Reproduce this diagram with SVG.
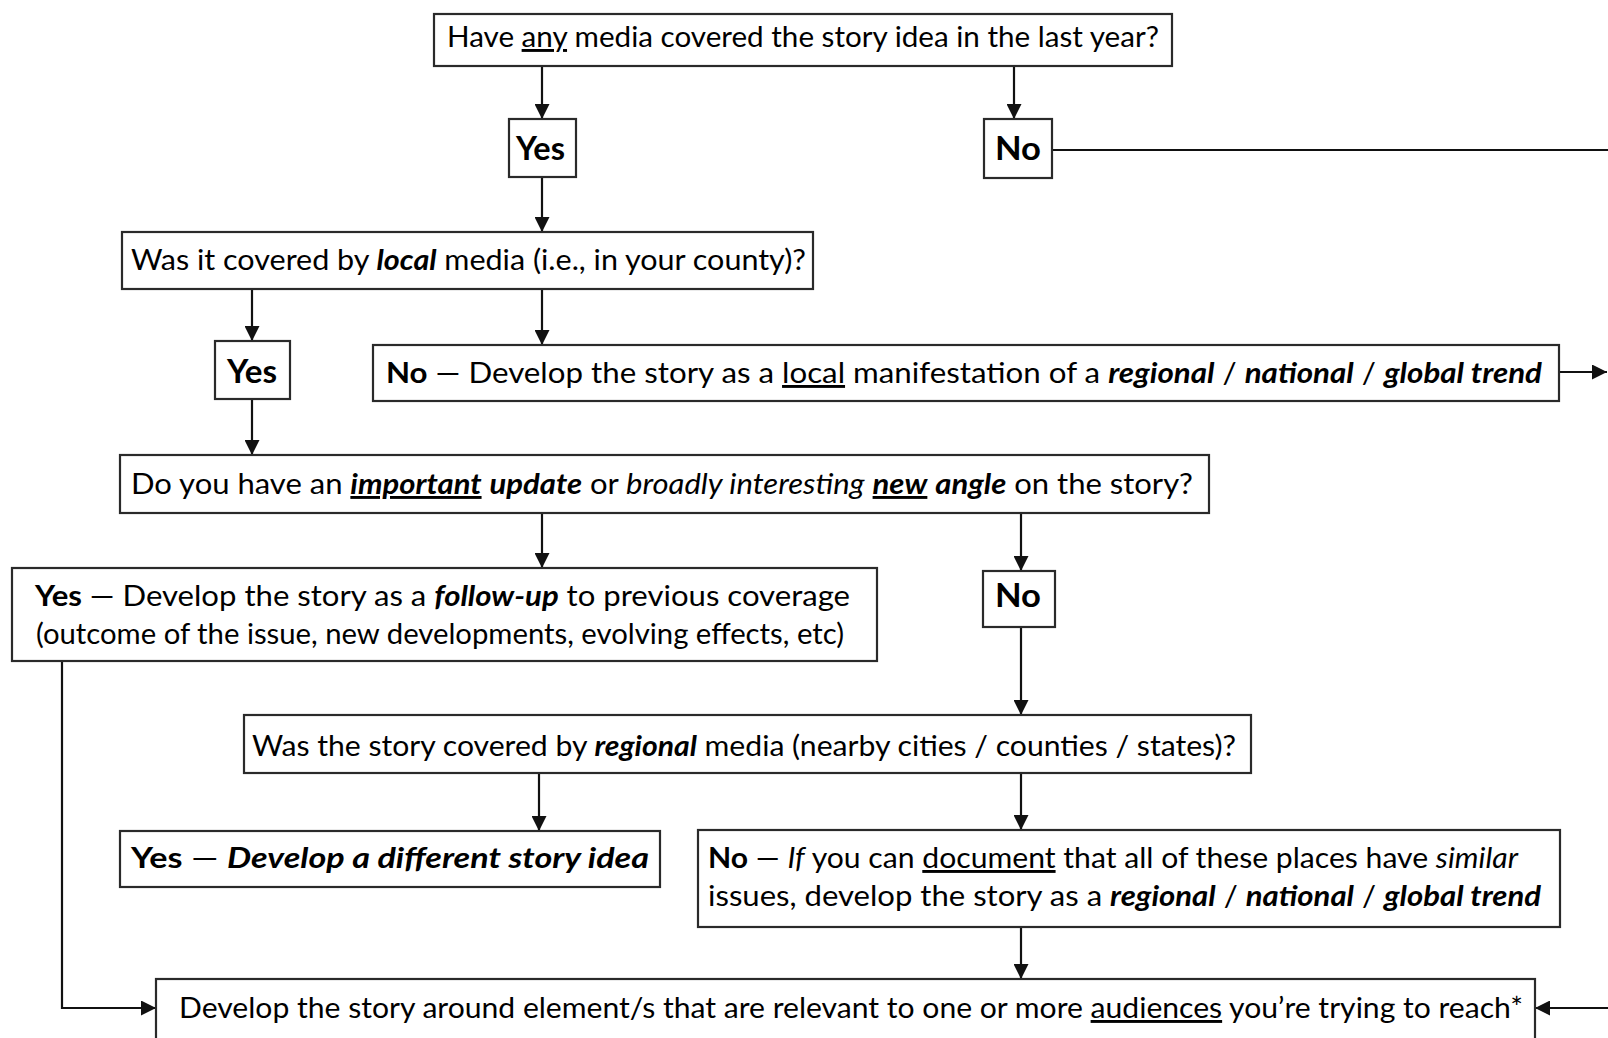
<svg xmlns="http://www.w3.org/2000/svg" width="1608" height="1038" viewBox="0 0 1608 1038">
<style>
.box{fill:#fff;stroke:#2a2a2a;stroke-width:2.2}
.t{font-family:Lato,"Open Sans","Liberation Sans",sans-serif;font-size:29px;fill:#000}
.yn{font-size:32px}
.b{font-weight:bold}
.i{font-style:italic}
.u{text-decoration:underline}
.c{fill:none;stroke:#111;stroke-width:2.2}
</style>
<defs>
<marker id="ah" viewBox="0 0 15 15" refX="15" refY="7.5" markerWidth="15" markerHeight="15" markerUnits="userSpaceOnUse" orient="auto">
<path d="M0,0 L15,7.5 L0,15 z" fill="#111"/>
</marker>
</defs>
<rect width="1608" height="1038" fill="#fff"/>
<g id="connectors">
<line class="c" x1="542" y1="66" x2="542" y2="119" marker-end="url(#ah)"/>
<line class="c" x1="1014" y1="66" x2="1014" y2="119" marker-end="url(#ah)"/>
<line class="c" x1="1052" y1="150" x2="1608" y2="150"/>
<line class="c" x1="542" y1="176" x2="542" y2="232" marker-end="url(#ah)"/>
<line class="c" x1="252" y1="289" x2="252" y2="341" marker-end="url(#ah)"/>
<line class="c" x1="542" y1="289" x2="542" y2="345" marker-end="url(#ah)"/>
<line class="c" x1="1559" y1="372" x2="1607" y2="372" marker-end="url(#ah)"/>
<line class="c" x1="252" y1="399" x2="252" y2="455" marker-end="url(#ah)"/>
<line class="c" x1="542" y1="513" x2="542" y2="568" marker-end="url(#ah)"/>
<line class="c" x1="1021" y1="513" x2="1021" y2="571" marker-end="url(#ah)"/>
<line class="c" x1="1021" y1="627" x2="1021" y2="715" marker-end="url(#ah)"/>
<line class="c" x1="539" y1="773" x2="539" y2="831" marker-end="url(#ah)"/>
<line class="c" x1="1021" y1="773" x2="1021" y2="830" marker-end="url(#ah)"/>
<line class="c" x1="1021" y1="927" x2="1021" y2="979" marker-end="url(#ah)"/>
<polyline class="c" points="62,661 62,1008 156,1008" marker-end="url(#ah)"/>
<line class="c" x1="1608" y1="1008" x2="1535" y2="1008" marker-end="url(#ah)"/>
</g>
<g id="q1">
<rect class="box" x="434" y="14" width="738" height="52"/>
<text class="t" x="447" y="47" textLength="712" lengthAdjust="spacingAndGlyphs">Have <tspan class="u">any</tspan> media covered the story idea in the last year?</text>
</g>
<g id="yes1">
<rect class="box" x="509" y="119" width="67" height="58"/>
<text class="t b yn" x="516" y="160" textLength="49" lengthAdjust="spacingAndGlyphs">Yes</text>
</g>
<g id="no1">
<rect class="box" x="984" y="119" width="68" height="59"/>
<text class="t b yn" x="995" y="160" textLength="46" lengthAdjust="spacingAndGlyphs">No</text>
</g>
<g id="q2">
<rect class="box" x="122" y="232" width="691" height="57"/>
<text class="t" x="131" y="270" textLength="675" lengthAdjust="spacingAndGlyphs">Was it covered by <tspan class="b i">local</tspan> media (i.e., in your county)?</text>
</g>
<g id="yes2">
<rect class="box" x="215" y="341" width="75" height="58"/>
<text class="t b yn" x="227" y="383" textLength="50" lengthAdjust="spacingAndGlyphs">Yes</text>
</g>
<g id="no2">
<rect class="box" x="373" y="345" width="1186" height="56"/>
<text class="t" x="386" y="383" textLength="1156" lengthAdjust="spacingAndGlyphs"><tspan class="b">No</tspan> — Develop the story as a <tspan class="u">local</tspan> manifestation of a <tspan class="b i">regional</tspan> / <tspan class="b i">national</tspan> / <tspan class="b i">global trend</tspan></text>
</g>
<g id="q3">
<rect class="box" x="120" y="455" width="1089" height="58"/>
<text class="t" x="131" y="494" textLength="1062" lengthAdjust="spacingAndGlyphs">Do you have an <tspan class="b i u">important</tspan> <tspan class="b i">update</tspan> or <tspan class="i">broadly interesting</tspan> <tspan class="b i u">new</tspan> <tspan class="b i">angle</tspan> on the story?</text>
</g>
<g id="yes3">
<rect class="box" x="12" y="568" width="865" height="93"/>
<text class="t" x="35" y="606" textLength="815" lengthAdjust="spacingAndGlyphs"><tspan class="b">Yes</tspan> — Develop the story as a <tspan class="b i">follow-up</tspan> to previous coverage</text>
<text class="t" x="36" y="644" textLength="808" lengthAdjust="spacingAndGlyphs">(outcome of the issue, new developments, evolving effects, etc)</text>
</g>
<g id="no3">
<rect class="box" x="983" y="571" width="72" height="56"/>
<text class="t b yn" x="995" y="607" textLength="46" lengthAdjust="spacingAndGlyphs">No</text>
</g>
<g id="q4">
<rect class="box" x="244" y="715" width="1007" height="58"/>
<text class="t" x="252" y="756" textLength="984" lengthAdjust="spacingAndGlyphs">Was the story covered by <tspan class="b i">regional</tspan> media (nearby cities / counties / states)?</text>
</g>
<g id="yes4">
<rect class="box" x="120" y="831" width="540" height="56"/>
<text class="t" x="131" y="868" textLength="518" lengthAdjust="spacingAndGlyphs"><tspan class="b">Yes</tspan> — <tspan class="b i">Develop a different story idea</tspan></text>
</g>
<g id="no4">
<rect class="box" x="698" y="830" width="862" height="97"/>
<text class="t" x="708" y="868" textLength="810" lengthAdjust="spacingAndGlyphs"><tspan class="b">No</tspan> — <tspan class="i">If</tspan> you can <tspan class="u">document</tspan> that all of these places have <tspan class="i">similar</tspan></text>
<text class="t" x="708" y="906" textLength="833" lengthAdjust="spacingAndGlyphs">issues, develop the story as a <tspan class="b i">regional</tspan> / <tspan class="b i">national</tspan> / <tspan class="b i">global trend</tspan></text>
</g>
<g id="final">
<rect class="box" x="156" y="979" width="1379" height="70"/>
<text class="t" x="179" y="1018" textLength="1344" lengthAdjust="spacingAndGlyphs">Develop the story around element/s that are relevant to one or more <tspan class="u">audiences</tspan> you’re trying to reach*</text>
</g>
</svg>
